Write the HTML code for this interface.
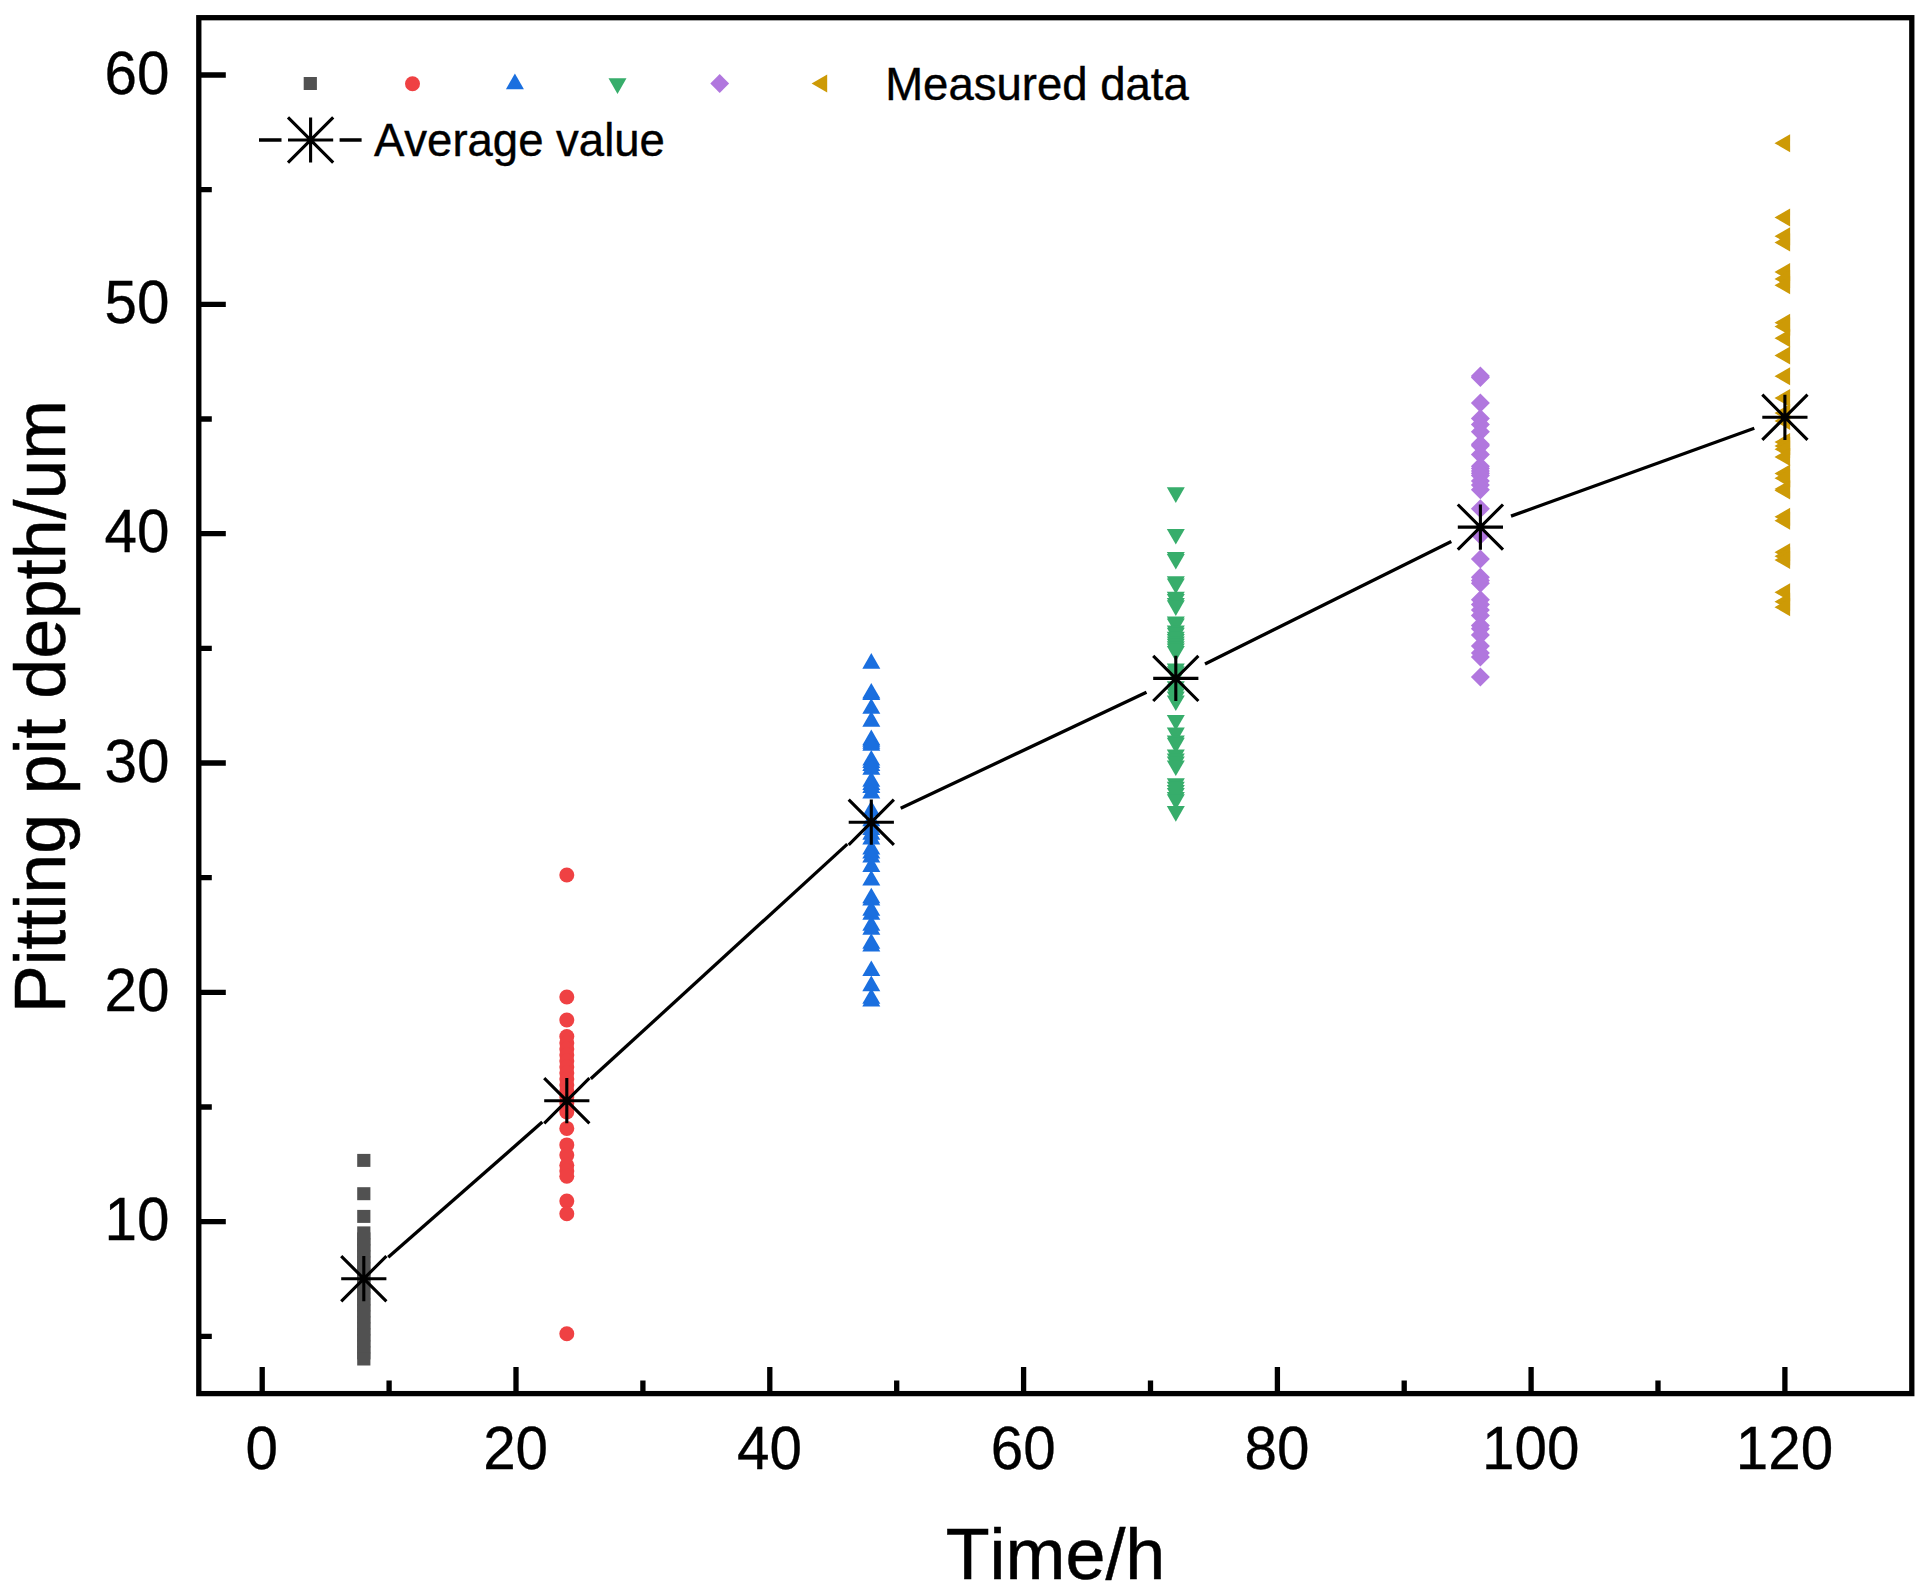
<!DOCTYPE html>
<html lang="en"><head><meta charset="utf-8"><title>Pitting pit depth vs time</title>
<style>html,body{margin:0;padding:0;background:#fff}body{width:1928px;height:1592px;overflow:hidden}svg{display:block}text{font-family:"Liberation Sans",Arial,Helvetica,sans-serif;fill:#000;font-kerning:none}</style>
</head><body>
<svg width="1928" height="1592" viewBox="0 0 1928 1592">
<rect width="1928" height="1592" fill="#fff"/>
<g fill="#515151">
<rect x="357.2" y="1153.9" width="13.2" height="13"/>
<rect x="357.2" y="1187.2" width="13.2" height="13"/>
<rect x="357.2" y="1209.9" width="13.2" height="13"/>
<rect x="357.2" y="1226.4" width="13.2" height="13"/>
<rect x="357.2" y="1232.4" width="13.2" height="13"/>
<rect x="357.2" y="1238.4" width="13.2" height="13"/>
<rect x="357.2" y="1244.4" width="13.2" height="13"/>
<rect x="357.2" y="1250.4" width="13.2" height="13"/>
<rect x="357.2" y="1256.4" width="13.2" height="13"/>
<rect x="357.2" y="1262.4" width="13.2" height="13"/>
<rect x="357.2" y="1268.4" width="13.2" height="13"/>
<rect x="357.2" y="1274.4" width="13.2" height="13"/>
<rect x="357.2" y="1280.4" width="13.2" height="13"/>
<rect x="357.2" y="1286.4" width="13.2" height="13"/>
<rect x="357.2" y="1292.4" width="13.2" height="13"/>
<rect x="357.2" y="1298.4" width="13.2" height="13"/>
<rect x="357.2" y="1304.4" width="13.2" height="13"/>
<rect x="357.2" y="1310.4" width="13.2" height="13"/>
<rect x="357.2" y="1316.4" width="13.2" height="13"/>
<rect x="357.2" y="1322.4" width="13.2" height="13"/>
<rect x="357.2" y="1328.4" width="13.2" height="13"/>
<rect x="357.2" y="1334.4" width="13.2" height="13"/>
<rect x="357.2" y="1340.4" width="13.2" height="13"/>
<rect x="357.2" y="1346.4" width="13.2" height="13"/>
<rect x="357.2" y="1352.5" width="13.2" height="13"/>
</g>
<g fill="#EF4143">
<circle cx="566.8" cy="875" r="7.5"/>
<circle cx="566.8" cy="997" r="7.5"/>
<circle cx="566.8" cy="1020" r="7.5"/>
<circle cx="566.8" cy="1036.5" r="7.5"/>
<circle cx="566.8" cy="1043" r="7.5"/>
<circle cx="566.8" cy="1049" r="7.5"/>
<circle cx="566.8" cy="1055" r="7.5"/>
<circle cx="566.8" cy="1061" r="7.5"/>
<circle cx="566.8" cy="1067" r="7.5"/>
<circle cx="566.8" cy="1073" r="7.5"/>
<circle cx="566.8" cy="1079" r="7.5"/>
<circle cx="566.8" cy="1085" r="7.5"/>
<circle cx="566.8" cy="1091" r="7.5"/>
<circle cx="566.8" cy="1097" r="7.5"/>
<circle cx="566.8" cy="1103" r="7.5"/>
<circle cx="566.8" cy="1109" r="7.5"/>
<circle cx="566.8" cy="1112" r="7.5"/>
<circle cx="566.8" cy="1128.4" r="7.5"/>
<circle cx="566.8" cy="1144.9" r="7.5"/>
<circle cx="566.8" cy="1155.1" r="7.5"/>
<circle cx="566.8" cy="1165.3" r="7.5"/>
<circle cx="566.8" cy="1171" r="7.5"/>
<circle cx="566.8" cy="1176.2" r="7.5"/>
<circle cx="566.8" cy="1201.1" r="7.5"/>
<circle cx="566.8" cy="1213.7" r="7.5"/>
<circle cx="566.8" cy="1333.7" r="7.5"/>
</g>
<g fill="#1A6FDF">
<path d="M862.3 668.7L880.3 668.7L871.3 653.1Z"/>
<path d="M862.3 698.5L880.3 698.5L871.3 682.9Z"/>
<path d="M862.3 700.1L880.3 700.1L871.3 684.5Z"/>
<path d="M862.3 713.8L880.3 713.8L871.3 698.2Z"/>
<path d="M862.3 726.7L880.3 726.7L871.3 711.1Z"/>
<path d="M862.3 745.2L880.3 745.2L871.3 729.6Z"/>
<path d="M862.3 746.8L880.3 746.8L871.3 731.2Z"/>
<path d="M862.3 748.8L880.3 748.8L871.3 733.2Z"/>
<path d="M862.3 750.7L880.3 750.7L871.3 735.1Z"/>
<path d="M862.3 765.6L880.3 765.6L871.3 750Z"/>
<path d="M862.3 768L880.3 768L871.3 752.4Z"/>
<path d="M862.3 771.1L880.3 771.1L871.3 755.5Z"/>
<path d="M862.3 774.7L880.3 774.7L871.3 759.1Z"/>
<path d="M862.3 786.8L880.3 786.8L871.3 771.2Z"/>
<path d="M862.3 790L880.3 790L871.3 774.4Z"/>
<path d="M862.3 793.1L880.3 793.1L871.3 777.5Z"/>
<path d="M862.3 798.6L880.3 798.6L871.3 783Z"/>
<path d="M862.3 816.2L880.3 816.2L871.3 800.6Z"/>
<path d="M862.3 826.3L880.3 826.3L871.3 810.7Z"/>
<path d="M862.3 830.3L880.3 830.3L871.3 814.7Z"/>
<path d="M862.3 835L880.3 835L871.3 819.4Z"/>
<path d="M862.3 839.7L880.3 839.7L871.3 824.1Z"/>
<path d="M862.3 844.4L880.3 844.4L871.3 828.8Z"/>
<path d="M862.3 854.6L880.3 854.6L871.3 839Z"/>
<path d="M862.3 858.5L880.3 858.5L871.3 842.9Z"/>
<path d="M862.3 862.4L880.3 862.4L871.3 846.8Z"/>
<path d="M862.3 871.9L880.3 871.9L871.3 856.3Z"/>
<path d="M862.3 885.5L880.3 885.5L871.3 869.9Z"/>
<path d="M862.3 903.3L880.3 903.3L871.3 887.7Z"/>
<path d="M862.3 905.6L880.3 905.6L871.3 890Z"/>
<path d="M862.3 915.8L880.3 915.8L871.3 900.2Z"/>
<path d="M862.3 919.8L880.3 919.8L871.3 904.2Z"/>
<path d="M862.3 930.8L880.3 930.8L871.3 915.2Z"/>
<path d="M862.3 934.7L880.3 934.7L871.3 919.1Z"/>
<path d="M862.3 948.8L880.3 948.8L871.3 933.2Z"/>
<path d="M862.3 951.5L880.3 951.5L871.3 935.9Z"/>
<path d="M862.3 976L880.3 976L871.3 960.4Z"/>
<path d="M862.3 991.2L880.3 991.2L871.3 975.6Z"/>
<path d="M862.3 1003.8L880.3 1003.8L871.3 988.2Z"/>
<path d="M862.3 1006.4L880.3 1006.4L871.3 990.8Z"/>
</g>
<g fill="#37AD6B">
<path d="M1166.8 487.3L1184.8 487.3L1175.8 502.9Z"/>
<path d="M1166.8 528.9L1184.8 528.9L1175.8 544.5Z"/>
<path d="M1166.8 552L1184.8 552L1175.8 567.6Z"/>
<path d="M1166.8 554L1184.8 554L1175.8 569.6Z"/>
<path d="M1166.8 576.3L1184.8 576.3L1175.8 591.9Z"/>
<path d="M1166.8 578.4L1184.8 578.4L1175.8 594Z"/>
<path d="M1166.8 591.7L1184.8 591.7L1175.8 607.3Z"/>
<path d="M1166.8 594.1L1184.8 594.1L1175.8 609.7Z"/>
<path d="M1166.8 598L1184.8 598L1175.8 613.6Z"/>
<path d="M1166.8 600.3L1184.8 600.3L1175.8 615.9Z"/>
<path d="M1166.8 616.4L1184.8 616.4L1175.8 632Z"/>
<path d="M1166.8 618.4L1184.8 618.4L1175.8 634Z"/>
<path d="M1166.8 625.5L1184.8 625.5L1175.8 641.1Z"/>
<path d="M1166.8 627.8L1184.8 627.8L1175.8 643.4Z"/>
<path d="M1166.8 631.7L1184.8 631.7L1175.8 647.3Z"/>
<path d="M1166.8 634L1184.8 634L1175.8 649.6Z"/>
<path d="M1166.8 636.4L1184.8 636.4L1175.8 652Z"/>
<path d="M1166.8 638.8L1184.8 638.8L1175.8 654.4Z"/>
<path d="M1166.8 641.2L1184.8 641.2L1175.8 656.8Z"/>
<path d="M1166.8 643.6L1184.8 643.6L1175.8 659.2Z"/>
<path d="M1166.8 645.9L1184.8 645.9L1175.8 661.5Z"/>
<path d="M1166.8 663.6L1184.8 663.6L1175.8 679.2Z"/>
<path d="M1166.8 666.3L1184.8 666.3L1175.8 681.9Z"/>
<path d="M1166.8 669.8L1184.8 669.8L1175.8 685.4Z"/>
<path d="M1166.8 681.2L1184.8 681.2L1175.8 696.8Z"/>
<path d="M1166.8 684.4L1184.8 684.4L1175.8 700Z"/>
<path d="M1166.8 688.3L1184.8 688.3L1175.8 703.9Z"/>
<path d="M1166.8 691.5L1184.8 691.5L1175.8 707.1Z"/>
<path d="M1166.8 695.4L1184.8 695.4L1175.8 711Z"/>
<path d="M1166.8 715L1184.8 715L1175.8 730.6Z"/>
<path d="M1166.8 727.6L1184.8 727.6L1175.8 743.2Z"/>
<path d="M1166.8 735.4L1184.8 735.4L1175.8 751Z"/>
<path d="M1166.8 737.8L1184.8 737.8L1175.8 753.4Z"/>
<path d="M1166.8 749.6L1184.8 749.6L1175.8 765.2Z"/>
<path d="M1166.8 753.5L1184.8 753.5L1175.8 769.1Z"/>
<path d="M1166.8 756.6L1184.8 756.6L1175.8 772.2Z"/>
<path d="M1166.8 760.5L1184.8 760.5L1175.8 776.1Z"/>
<path d="M1166.8 778.3L1184.8 778.3L1175.8 793.9Z"/>
<path d="M1166.8 781.7L1184.8 781.7L1175.8 797.3Z"/>
<path d="M1166.8 784.9L1184.8 784.9L1175.8 800.5Z"/>
<path d="M1166.8 788L1184.8 788L1175.8 803.6Z"/>
<path d="M1166.8 792L1184.8 792L1175.8 807.6Z"/>
<path d="M1166.8 794.3L1184.8 794.3L1175.8 809.9Z"/>
<path d="M1166.8 806.1L1184.8 806.1L1175.8 821.7Z"/>
</g>
<g fill="#B177DE">
<path d="M1470.9 375.9L1480.4 366.4L1489.9 375.9L1480.4 385.4Z"/>
<path d="M1470.9 377.5L1480.4 368L1489.9 377.5L1480.4 387Z"/>
<path d="M1470.9 403.1L1480.4 393.6L1489.9 403.1L1480.4 412.6Z"/>
<path d="M1470.9 418.6L1480.4 409.1L1489.9 418.6L1480.4 428.1Z"/>
<path d="M1470.9 424.6L1480.4 415.1L1489.9 424.6L1480.4 434.1Z"/>
<path d="M1470.9 431.7L1480.4 422.2L1489.9 431.7L1480.4 441.2Z"/>
<path d="M1470.9 444.2L1480.4 434.7L1489.9 444.2L1480.4 453.7Z"/>
<path d="M1470.9 445.8L1480.4 436.3L1489.9 445.8L1480.4 455.3Z"/>
<path d="M1470.9 454.4L1480.4 444.9L1489.9 454.4L1480.4 463.9Z"/>
<path d="M1470.9 466.2L1480.4 456.7L1489.9 466.2L1480.4 475.7Z"/>
<path d="M1470.9 468.6L1480.4 459.1L1489.9 468.6L1480.4 478.1Z"/>
<path d="M1470.9 470.9L1480.4 461.4L1489.9 470.9L1480.4 480.4Z"/>
<path d="M1470.9 473.3L1480.4 463.8L1489.9 473.3L1480.4 482.8Z"/>
<path d="M1470.9 475.6L1480.4 466.1L1489.9 475.6L1480.4 485.1Z"/>
<path d="M1470.9 481L1480.4 471.5L1489.9 481L1480.4 490.5Z"/>
<path d="M1470.9 485L1480.4 475.5L1489.9 485L1480.4 494.5Z"/>
<path d="M1470.9 489.8L1480.4 480.3L1489.9 489.8L1480.4 499.3Z"/>
<path d="M1470.9 508.8L1480.4 499.3L1489.9 508.8L1480.4 518.3Z"/>
<path d="M1470.9 535.3L1480.4 525.8L1489.9 535.3L1480.4 544.8Z"/>
<path d="M1470.9 558.9L1480.4 549.4L1489.9 558.9L1480.4 568.4Z"/>
<path d="M1470.9 577.3L1480.4 567.8L1489.9 577.3L1480.4 586.8Z"/>
<path d="M1470.9 580.4L1480.4 570.9L1489.9 580.4L1480.4 589.9Z"/>
<path d="M1470.9 583.2L1480.4 573.7L1489.9 583.2L1480.4 592.7Z"/>
<path d="M1470.9 599.7L1480.4 590.2L1489.9 599.7L1480.4 609.2Z"/>
<path d="M1470.9 604.4L1480.4 594.9L1489.9 604.4L1480.4 613.9Z"/>
<path d="M1470.9 609.9L1480.4 600.4L1489.9 609.9L1480.4 619.4Z"/>
<path d="M1470.9 615.4L1480.4 605.9L1489.9 615.4L1480.4 624.9Z"/>
<path d="M1470.9 625.6L1480.4 616.1L1489.9 625.6L1480.4 635.1Z"/>
<path d="M1470.9 628.8L1480.4 619.3L1489.9 628.8L1480.4 638.3Z"/>
<path d="M1470.9 635L1480.4 625.5L1489.9 635L1480.4 644.5Z"/>
<path d="M1470.9 646L1480.4 636.5L1489.9 646L1480.4 655.5Z"/>
<path d="M1470.9 653.1L1480.4 643.6L1489.9 653.1L1480.4 662.6Z"/>
<path d="M1470.9 657L1480.4 647.5L1489.9 657L1480.4 666.5Z"/>
<path d="M1470.9 677.1L1480.4 667.6L1489.9 677.1L1480.4 686.6Z"/>
</g>
<g fill="#CD9A06">
<path d="M1774.5 143.2L1790.1 134.2L1790.1 152.2Z"/>
<path d="M1774.5 217.4L1790.1 208.4L1790.1 226.4Z"/>
<path d="M1774.5 236.2L1790.1 227.2L1790.1 245.2Z"/>
<path d="M1774.5 242.6L1790.1 233.6L1790.1 251.6Z"/>
<path d="M1774.5 272L1790.1 263L1790.1 281Z"/>
<path d="M1774.5 278.9L1790.1 269.9L1790.1 287.9Z"/>
<path d="M1774.5 285.3L1790.1 276.3L1790.1 294.3Z"/>
<path d="M1774.5 322.7L1790.1 313.7L1790.1 331.7Z"/>
<path d="M1774.5 326.6L1790.1 317.6L1790.1 335.6Z"/>
<path d="M1774.5 338.2L1790.1 329.2L1790.1 347.2Z"/>
<path d="M1774.5 355.5L1790.1 346.5L1790.1 364.5Z"/>
<path d="M1774.5 376.2L1790.1 367.2L1790.1 385.2Z"/>
<path d="M1774.5 398.1L1790.1 389.1L1790.1 407.1Z"/>
<path d="M1774.5 413.1L1790.1 404.1L1790.1 422.1Z"/>
<path d="M1774.5 420.9L1790.1 411.9L1790.1 429.9Z"/>
<path d="M1774.5 442.1L1790.1 433.1L1790.1 451.1Z"/>
<path d="M1774.5 446L1790.1 437L1790.1 455Z"/>
<path d="M1774.5 449.2L1790.1 440.2L1790.1 458.2Z"/>
<path d="M1774.5 457L1790.1 448L1790.1 466Z"/>
<path d="M1774.5 473.5L1790.1 464.5L1790.1 482.5Z"/>
<path d="M1774.5 478.2L1790.1 469.2L1790.1 487.2Z"/>
<path d="M1774.5 489L1790.1 480L1790.1 498Z"/>
<path d="M1774.5 490.6L1790.1 481.6L1790.1 499.6Z"/>
<path d="M1774.5 516.8L1790.1 507.8L1790.1 525.8Z"/>
<path d="M1774.5 520.7L1790.1 511.7L1790.1 529.7Z"/>
<path d="M1774.5 552.2L1790.1 543.2L1790.1 561.2Z"/>
<path d="M1774.5 556.2L1790.1 547.2L1790.1 565.2Z"/>
<path d="M1774.5 560.1L1790.1 551.1L1790.1 569.1Z"/>
<path d="M1774.5 592.3L1790.1 583.3L1790.1 601.3Z"/>
<path d="M1774.5 601.7L1790.1 592.7L1790.1 610.7Z"/>
<path d="M1774.5 607.2L1790.1 598.2L1790.1 616.2Z"/>
</g>
<g stroke="#000" stroke-width="3.3" fill="none">
<line x1="388.2" y1="1257.3" x2="542.3" y2="1122.1"/>
<line x1="590.8" y1="1078.8" x2="847.3" y2="844.1"/>
<line x1="900.7" y1="808.3" x2="1146.5" y2="692.3"/>
<line x1="1205" y1="663.9" x2="1451.3" y2="541.6"/>
<line x1="1511" y1="516.1" x2="1754.3" y2="428.3"/>
</g>
<g stroke="#000" stroke-width="3.1" fill="none">
<path d="M341.2 1278.7H386.4M363.8 1256.1V1301.3M341.2 1256.1L386.4 1301.3M341.2 1301.3L386.4 1256.1"/>
<path d="M544.2 1100.7H589.4M566.8 1078.1V1123.3M544.2 1078.1L589.4 1123.3M544.2 1123.3L589.4 1078.1"/>
<path d="M848.7 822.2H893.9M871.3 799.6V844.8M848.7 799.6L893.9 844.8M848.7 844.8L893.9 799.6"/>
<path d="M1153.2 678.4H1198.4M1175.8 655.8V701M1153.2 655.8L1198.4 701M1153.2 701L1198.4 655.8"/>
<path d="M1457.8 527.1H1503M1480.4 504.5V549.7M1457.8 504.5L1503 549.7M1457.8 549.7L1503 504.5"/>
<path d="M1762.3 417.3H1807.5M1784.9 394.7V439.9M1762.3 394.7L1807.5 439.9M1762.3 439.9L1807.5 394.7"/>
</g>
<g stroke="#000" stroke-width="5.3" fill="none">
<rect x="198.8" y="17.7" width="1713" height="1375.9"/>
<path d="M262.2 1393.6v-26.6M389.1 1393.6v-13M516 1393.6v-26.6M642.9 1393.6v-13M769.8 1393.6v-26.6M896.7 1393.6v-13M1023.6 1393.6v-26.6M1150.5 1393.6v-13M1277.4 1393.6v-26.6M1404.2 1393.6v-13M1531.1 1393.6v-26.6M1658 1393.6v-13M1784.9 1393.6v-26.6M198.8 1336.3h13M198.8 1221.6h27M198.8 1107h13M198.8 992.3h27M198.8 877.6h13M198.8 763h27M198.8 648.3h13M198.8 533.7h27M198.8 419h13M198.8 304.3h27M198.8 189.7h13M198.8 75h27"/>
</g>
<g font-size="58.4" text-anchor="middle" stroke="#000" stroke-width="0.3">
<text transform="translate(261.8 1469.3) scale(1 1.04)">0</text>
<text transform="translate(515.6 1469.3) scale(1 1.04)">20</text>
<text transform="translate(769.4 1469.3) scale(1 1.04)">40</text>
<text transform="translate(1023.2 1469.3) scale(1 1.04)">60</text>
<text transform="translate(1277 1469.3) scale(1 1.04)">80</text>
<text transform="translate(1530.7 1469.3) scale(1 1.04)">100</text>
<text transform="translate(1784.5 1469.3) scale(1 1.04)">120</text>
</g>
<g font-size="58.4" text-anchor="end" stroke="#000" stroke-width="0.3">
<text transform="translate(169.5 1240.1) scale(1 1.04)">10</text>
<text transform="translate(169.5 1010.8) scale(1 1.04)">20</text>
<text transform="translate(169.5 781.5) scale(1 1.04)">30</text>
<text transform="translate(169.5 552.2) scale(1 1.04)">40</text>
<text transform="translate(169.5 322.8) scale(1 1.04)">50</text>
<text transform="translate(169.5 93.5) scale(1 1.04)">60</text>
</g>
<text x="1055.5" y="1579" font-size="71.9" text-anchor="middle" stroke="#000" stroke-width="0.5">Time/h</text>
<text transform="translate(65.3 706.6) rotate(-90)" font-size="71.6" text-anchor="middle" stroke="#000" stroke-width="0.5">Pitting pit depth/um</text>
<rect x="303.7" y="77" width="13.2" height="13" fill="#515151"/>
<circle cx="412.5" cy="83.7" r="7.5" fill="#EF4143"/>
<path d="M505.9 89.2L523.9 89.2L514.9 73.6Z" fill="#1A6FDF"/>
<path d="M608.5 78.3L626.5 78.3L617.5 93.9Z" fill="#37AD6B"/>
<path d="M710.3 83.5L719.7 74.1L729.1 83.5L719.7 92.9Z" fill="#B177DE"/>
<path d="M811.6 83.5L827.2 74.5L827.2 92.5Z" fill="#CD9A06"/>
<text x="885.2" y="99.9" font-size="45.5" stroke="#000" stroke-width="0.4">Measured data</text>
<path d="M259 140H281.5M339.6 140H361.6" stroke="#000" stroke-width="3.3" fill="none"/>
<g stroke="#000" stroke-width="3.1" fill="none"><path d="M288 140H333.2M310.6 117.4V162.6M288 117.4L333.2 162.6M288 162.6L333.2 117.4"/></g>
<text x="374" y="156.3" font-size="45.5" stroke="#000" stroke-width="0.4">Average value</text>
</svg>
</body></html>
